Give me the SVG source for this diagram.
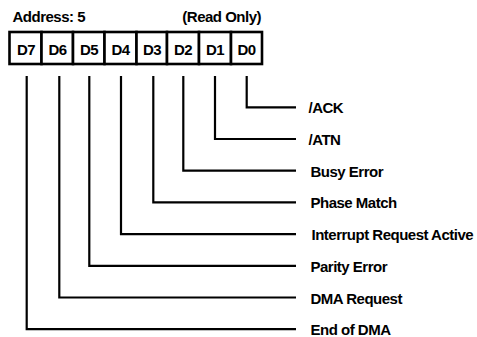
<svg xmlns="http://www.w3.org/2000/svg" width="477" height="337" viewBox="0 0 477 337">
<style>
text{font-family:"Liberation Sans",Arial,sans-serif;font-weight:bold;font-size:15px;letter-spacing:-0.5px;fill:#000}
.cell{fill:#fff;stroke:#000;stroke-width:2.6}
.c{text-anchor:middle}
.wire{fill:none;stroke:#000;stroke-width:2.2}
</style>
<rect width="477" height="337" fill="#fff"/>
<text x="12.5" y="22">Address: 5</text>
<text x="261" y="22" text-anchor="end">(Read Only)</text>
<g id="reg">
<g id="d7"><rect class="cell" x="9.5" y="32" width="32" height="32"/><text class="c" x="26" y="54.5">D7</text></g>
<g id="d6"><rect class="cell" x="41.5" y="32" width="31.5" height="32"/><text class="c" x="57.5" y="54.5">D6</text></g>
<g id="d5"><rect class="cell" x="73" y="32" width="31.5" height="32"/><text class="c" x="89" y="54.5">D5</text></g>
<g id="d4"><rect class="cell" x="104.5" y="32" width="32" height="32"/><text class="c" x="120.5" y="54.5">D4</text></g>
<g id="d3"><rect class="cell" x="136.5" y="32" width="30.5" height="32"/><text class="c" x="152" y="54.5">D3</text></g>
<g id="d2"><rect class="cell" x="167" y="32" width="32" height="32"/><text class="c" x="183" y="54.5">D2</text></g>
<g id="d1"><rect class="cell" x="199" y="32" width="32" height="32"/><text class="c" x="215" y="54.5">D1</text></g>
<g id="d0"><rect class="cell" x="231" y="32" width="31" height="32"/><text class="c" x="246.5" y="54.5">D0</text></g>
</g>
<g id="connectors">
<path class="wire" d="M246.7 76V107.3H296"/>
<path class="wire" d="M215 76V139H296"/>
<path class="wire" d="M183.3 76V170.7H296"/>
<path class="wire" d="M153.3 76V202.4H296"/>
<path class="wire" d="M121 76V234.1H296"/>
<path class="wire" d="M89.3 76V265.8H296"/>
<path class="wire" d="M59.3 76V297.5H296"/>
<path class="wire" d="M26.7 76V329.2H296"/>
</g>
<g id="labels">
<text id="l0" x="308.5" y="113.3">/ACK</text>
<text id="l1" x="308.5" y="145">/ATN</text>
<text id="l2" x="310.5" y="176.7">Busy Error</text>
<text id="l3" x="310.5" y="208.4">Phase Match</text>
<text id="l4" x="311.5" y="240.1">Interrupt Request Active</text>
<text id="l5" x="310.5" y="271.8">Parity Error</text>
<text id="l6" x="310.5" y="303.5">DMA Request</text>
<text id="l7" x="310.5" y="335.2">End of DMA</text>
</g>
</svg>
